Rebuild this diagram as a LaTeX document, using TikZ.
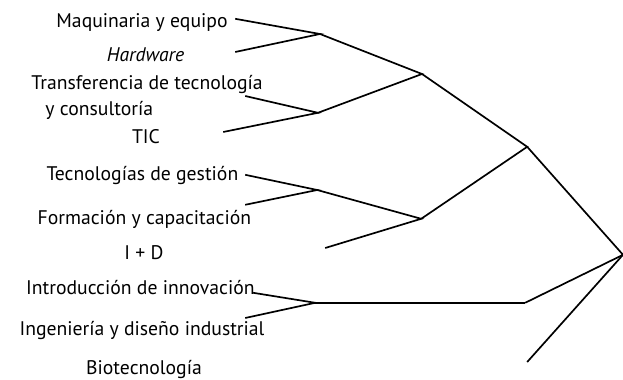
\documentclass[tikz,border=0pt]{standalone}
\usepackage{fontspec}
\setmainfont{PT Sans}

\tikzset{
	lbl/.style={inner sep=1pt, font=\fontsize{14}{18.4}\selectfont},
	branch/.style={line width=1.2pt}
}

\begin{document}
\begin{tikzpicture}
				%%%%% START %%%%%
				\useasboundingbox (0, 0) rectangle (15.575, 9.5);
				
				\node[lbl] (maq) at (3.55, 8.93) {Maquinaria y equipo};
				\node[lbl] (hard) at (3.64, 8.13) {\itshape Hardware};
				\node[lbl, align=left, anchor=west] (trans) at (0.745, 7.07) {Transferencia de tecnología\\\hspace*{0.35cm}y consultoría};
				\node[lbl] (tic) at (3.65, 6.08) {TIC};
				\node[lbl] (tec) at (3.56, 5.11) {Tecnologías de gestión};
				\node[lbl] (form) at (3.61, 4.01) {Formación y capacitación};
				\node[lbl] (id) at (3.60, 3.18) {I + D};
				\node[lbl] (intro) at (3.51, 2.30) {Introducción de innovación};
				\node[lbl] (ing) at (3.55, 1.23) {Ingeniería y diseño industrial};
				\node[lbl] (bio) at (3.60, 0.26) {Biotecnología};
				
				% free ends of the leaves
				\coordinate (maqE) at (5.88, 9.03);
				\coordinate (hardE) at (5.88, 8.20);
				\coordinate (transE) at (6.13, 7.10);
				\coordinate (ticE) at (5.58, 6.20);
				\coordinate (tecE) at (6.13, 5.13);
				\coordinate (formE) at (6.13, 4.38);
				\coordinate (idE) at (8.13, 3.30);
				\coordinate (introE) at (6.33, 2.18);
				\coordinate (ingE) at (6.13, 1.55);
				\coordinate (bioE) at (13.18, 0.45);
				
				% joints
				\coordinate (j1) at (8.00, 8.65);
				\coordinate (j2) at (7.95, 6.68);
				\coordinate (j3) at (7.93, 4.75);
				\coordinate (j4) at (7.88, 1.93);
				\coordinate (k1) at (10.55, 7.65);
				\coordinate (k2) at (10.53, 4.03);
				\coordinate (l1) at (13.18, 5.83);
				\coordinate (l2) at (13.13, 1.93);
				\coordinate (root) at (15.575, 3.13);
				
				\draw[branch] (maqE) -- (j1) -- (hardE);
				\draw[branch] (transE) -- (j2) -- (ticE);
				\draw[branch] (tecE) -- (j3) -- (formE);
				\draw[branch] (introE) -- (j4) -- (ingE);
				
				\draw[branch] (j1) -- (k1) -- (j2);
				\draw[branch] (j3) -- (k2) -- (idE);
				\draw[branch] (k1) -- (l1) -- (k2);
				\draw[branch] (j4) -- (l2);
				
				\draw[branch] (l1) -- (root) -- (l2);
				\draw[branch] (root) -- (bioE);
				%%%%% END %%%%%
\end{tikzpicture}
\end{document}
